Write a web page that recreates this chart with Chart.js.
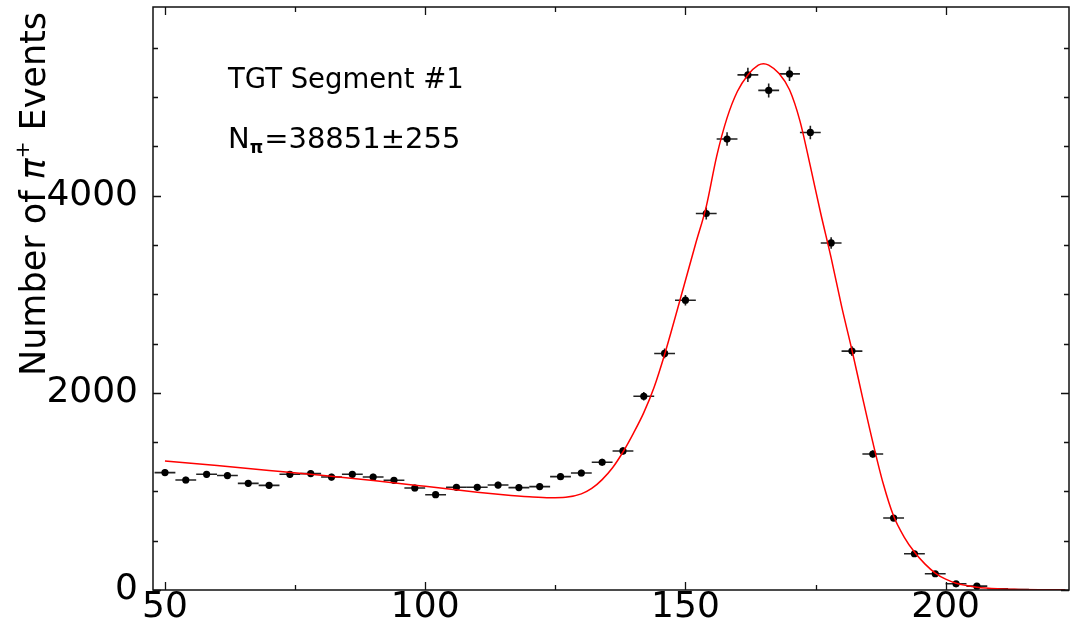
<!DOCTYPE html>
<html><head><meta charset="utf-8">
<script src="https://cdn.jsdelivr.net/npm/chart.js@4.4.1/dist/chart.umd.min.js"></script>
<style>html,body{margin:0;padding:0;background:#fff;}#wrap{width:1073px;height:637px;position:relative;}</style>
</head><body><div id="wrap"><canvas id="c"></canvas></div>
<script>
// ---- data ----
const binCenters = [50,54,58,62,66,70,74,78,82,86,90,94,98,102,106,110,114,118,122,126,130,134,138,142,146,150,154,158,162,166,170,174,178,182,186,190,194,198,202,206,210,214];
const counts = [1191,1116,1174,1161,1082,1062,1174,1181,1146,1174,1146,1113,1035,967,1042,1042,1065,1039,1049,1150,1187,1296,1411,1966,2400,2940,3820,4575,5226,5069,5236,4642,3521,2424,1380,730,368,165,63,39,12,4];
const countErrors = [35,33,34,34,33,33,34,34,34,34,34,33,32,31,32,32,33,32,32,34,34,36,38,44,49,54,62,68,72,71,72,68,59,49,37,27,19,13,8,6,3,2];
const binHalfWidth = 2;
const fitX = [50,60,70,80,90,100,105,110,115,120,124,127,130,132,134,136,138,140,142,144,146,148,150,152,154,156,158,160,162,164,165,166,168,170,172,174,176,178,180,182,184,186,188,190,192,194,196,198,200,202,204,206,210,214,218,223];
const fitY = [1310,1262,1213,1163,1110,1052,1022,992,966,945,935,940,975,1030,1120,1240,1400,1590,1800,2060,2390,2760,3140,3520,3890,4400,4790,5060,5226,5325,5340,5325,5240,5075,4760,4300,3820,3370,2880,2434,1960,1500,1080,750,540,385,265,172,110,69,45,28,12,6,3,2];
const xMajorTicks = [50,100,150,200];
const xMinorTicks = [75,125,175];
const yMajorTicks = [0,2000,4000];
const yMinorTicks = [500,1000,1500,2500,3000,3500,4500,5000,5500];
const yTitleParts = ["Number of ", "\u03C0", "+", " Events"];
const label1 = "TGT Segment #1";
const label2Main = "N";
const label2Sub = "\u03C0";
const label2Rest = "=38851\u00B1255";

const FONT = "'DejaVu Sans', sans-serif";

const pointsData = binCenters.map((x,i)=>({x:x, y:counts[i]}));
const fitData = fitX.map((x,i)=>({x:x, y:fitY[i]}));

const decor = {
  id: 'decor',
  beforeDatasetsDraw(chart){
    const ctx = chart.ctx, xs = chart.scales.x, ys = chart.scales.y, a = chart.chartArea;
    ctx.save();
    ctx.beginPath(); ctx.rect(a.left, a.top, a.right-a.left, a.bottom-a.top); ctx.clip();
    ctx.strokeStyle = '#222'; ctx.lineWidth = 1.6;
    binCenters.forEach((c,i)=>{
      const y = ys.getPixelForValue(counts[i]);
      const x = xs.getPixelForValue(c);
      ctx.beginPath();
      ctx.moveTo(xs.getPixelForValue(c-binHalfWidth), y);
      ctx.lineTo(xs.getPixelForValue(c+binHalfWidth), y);
      ctx.moveTo(x, ys.getPixelForValue(counts[i]-countErrors[i]));
      ctx.lineTo(x, ys.getPixelForValue(counts[i]+countErrors[i]));
      ctx.stroke();
    });
    ctx.restore();
  },
  afterDraw(chart){
    const ctx = chart.ctx, xs = chart.scales.x, ys = chart.scales.y, a = chart.chartArea;
    ctx.save();
    ctx.strokeStyle = '#111'; ctx.lineWidth = 1.5;
    ctx.strokeRect(a.left, a.top, a.right-a.left, a.bottom-a.top);
    const tick = (vals, len, horiz) => {
      vals.forEach(v=>{
        ctx.beginPath();
        if (horiz){
          const x = Math.round(xs.getPixelForValue(v))+0.5;
          ctx.moveTo(x, a.bottom); ctx.lineTo(x, a.bottom-len);
          ctx.moveTo(x, a.top); ctx.lineTo(x, a.top+len);
        } else {
          const y = Math.round(ys.getPixelForValue(v))+0.5;
          ctx.moveTo(a.left, y); ctx.lineTo(a.left+len, y);
          ctx.moveTo(a.right, y); ctx.lineTo(a.right-len, y);
        }
        ctx.stroke();
      });
    };
    ctx.lineWidth = 1.3;
    tick(xMajorTicks, 8, true); tick(xMinorTicks, 5, true);
    tick(yMajorTicks, 8, false); tick(yMinorTicks, 5, false);

    // y title
    ctx.fillStyle = '#000';
    ctx.translate(45, 376);
    ctx.rotate(-Math.PI/2);
    ctx.textBaseline = 'alphabetic'; ctx.textAlign = 'left';
    let px = 0;
    ctx.font = "35px " + FONT;
    ctx.fillText(yTitleParts[0], px, 0); px += ctx.measureText(yTitleParts[0]).width;
    ctx.font = "italic 35px " + FONT;
    ctx.fillText(yTitleParts[1], px, 0); px += ctx.measureText(yTitleParts[1]).width;
    ctx.font = "20px " + FONT;
    ctx.fillText(yTitleParts[2], px, -16); px += ctx.measureText(yTitleParts[2]).width;
    ctx.font = "35px " + FONT;
    ctx.fillText(yTitleParts[3], px, 0);
    ctx.setTransform(1,0,0,1,0,0);

    // annotations
    ctx.font = "27.5px " + FONT;
    ctx.fillText(label1, 228, 88);
    let lx = 228;
    ctx.font = "29px " + FONT;
    ctx.fillText(label2Main, lx, 148); lx += ctx.measureText(label2Main).width;
    ctx.font = "bold 17px " + FONT;
    ctx.fillText(label2Sub, lx, 153); lx += ctx.measureText(label2Sub).width + 1;
    ctx.font = "29px " + FONT;
    ctx.fillText(label2Rest, lx, 148);
    ctx.restore();
  }
};

new Chart(document.getElementById('c'), {
  type: 'scatter',
  data: { datasets: [
    { data: fitData, showLine: true, borderColor: '#ff0000', borderWidth: 1.5, pointRadius: 0, fill: false, cubicInterpolationMode: 'monotone' },
    { data: pointsData, showLine: false, backgroundColor: '#000', borderColor: '#000', borderWidth: 0,
      pointRadius: ctx => (ctx.raw && ctx.raw.y < 20) ? 0 : 3.6 }
  ]},
  options: {
    responsive: true, maintainAspectRatio: false, animation: false,
    events: [],
    layout: { padding: { top: 7, right: 3, left: 0, bottom: 0 } },
    plugins: { legend: { display: false }, tooltip: { enabled: false } },
    scales: {
      x: { type: 'linear', min: 47.7, max: 223.7,
        grid: { display: false, drawTicks: false }, border: { display: false },
        afterBuildTicks: s => { s.ticks = xMajorTicks.map(v => ({ value: v })); },
        afterFit: s => { s.height = 47; s.paddingLeft = 0; s.paddingRight = 0; },
        ticks: { font: { family: FONT, size: 36, lineHeight: 1 }, color: '#000', padding: 0, maxRotation: 0, autoSkip: false, callback: v => String(v) } },
      y: { type: 'linear', min: 0, max: 5915,
        grid: { display: false, drawTicks: false }, border: { display: false },
        afterBuildTicks: s => { s.ticks = yMajorTicks.map(v => ({ value: v })); },
        afterFit: s => { s.width = 153; s.paddingTop = 0; s.paddingBottom = 0; },
        ticks: { font: { family: FONT, size: 36 }, color: '#000', padding: 15, autoSkip: false, callback: v => String(v) } }
    }
  },
  plugins: [decor]
});
</script></body></html>
